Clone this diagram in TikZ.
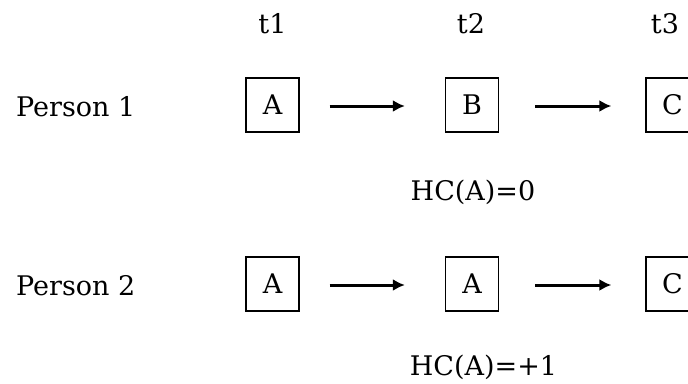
\documentclass[tikz,border=0pt]{standalone}
\usepackage{fontspec}
\setmainfont{DejaVu Serif}
\usetikzlibrary{arrows.meta}
\begin{document}
\begin{tikzpicture}[x=1pt,y=1pt,
  lbl/.style={font=\fontsize{27}{32}\selectfont, inner sep=0pt, anchor=base},
  stbox/.style={draw, line width=1.3pt, minimum width=53pt, minimum height=54pt, inner sep=0pt,
    font=\fontsize{27}{32}\selectfont, text height=19pt, text depth=0pt},
  arr/.style={line width=3pt, -{Latex[length=12pt,width=12pt]}}]
\useasboundingbox (0,0) rectangle (688,-383);
\fill[white] (0,0) rectangle (688,-383);
% time labels
\node[lbl] (t1) at (272.5,-33) {t1};
\node[lbl] (t2) at (471,-33) {t2};
\node[lbl] (t3) at (665,-33) {t3};
% row 1
\node[lbl, anchor=base west] (p1) at (16,-116) {Person 1};
\node[stbox] (a1) at (272.5,-105) {A};
\node[stbox] (b1) at (472,-105) {B};
\node[stbox] (c1) at (672.5,-105) {C};
\draw[arr, shorten <=30pt, shorten >=40pt] ([yshift=-1pt]a1.east) -- ([yshift=-1pt]b1.west);
\draw[arr, shorten <=36pt, shorten >=34pt] ([yshift=-1pt]b1.east) -- ([yshift=-1pt]c1.west);
\node[lbl] (hc0) at (473,-200) {HC(A)=0};
% row 2
\node[lbl, anchor=base west] (p2) at (16,-295) {Person 2};
\node[stbox] (a2) at (272.5,-284) {A};
\node[stbox] (b2) at (472,-284) {A};
\node[stbox] (c2) at (672.5,-284) {C};
\draw[arr, shorten <=30pt, shorten >=40pt] ([yshift=-1pt]a2.east) -- ([yshift=-1pt]b2.west);
\draw[arr, shorten <=36pt, shorten >=34pt] ([yshift=-1pt]b2.east) -- ([yshift=-1pt]c2.west);
\node[lbl] (hc1) at (483.5,-375) {HC(A)=+1};
\end{tikzpicture}
\end{document}
